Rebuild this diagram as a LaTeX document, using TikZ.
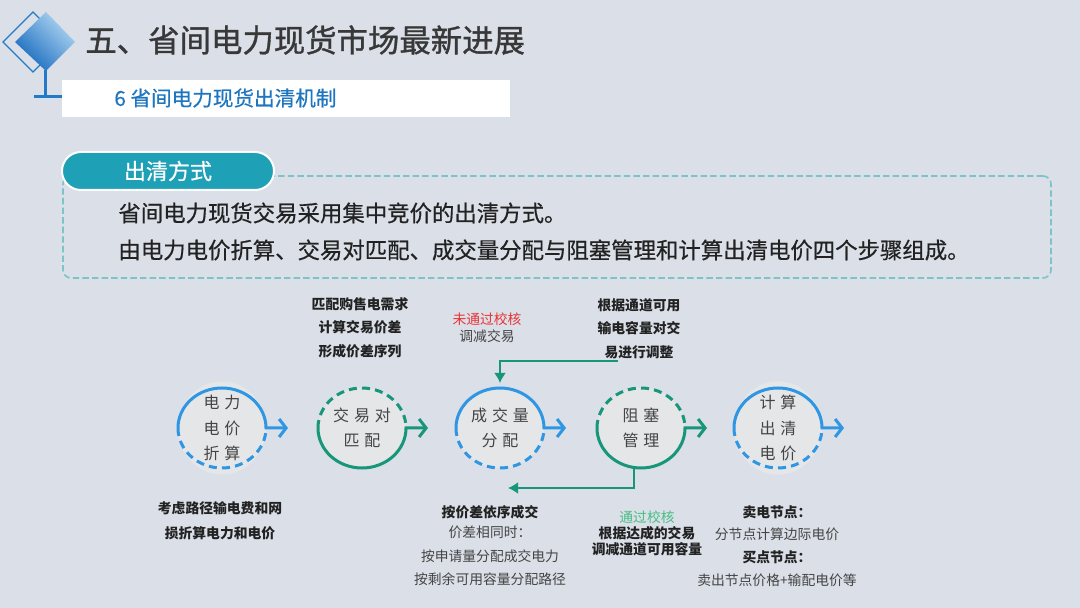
\documentclass[tikz,border=0pt]{standalone}
\usepackage{fontspec}
\setmainfont{Noto Sans CJK SC}
\newfontfamily\headfont{Noto Sans CJK SC}[FakeBold=1.1]
\newfontfamily\medfont{Noto Sans CJK SC}[FakeBold=0.5]
\usetikzlibrary{positioning,arrows.meta,shapes.geometric}

\definecolor{pagebg}{RGB}{218,223,232}
\definecolor{cBlue}{RGB}{46,150,226}
\definecolor{cGreen}{RGB}{24,150,122}
\definecolor{cLight}{RGB}{72,190,130}
\definecolor{cRed}{RGB}{232,52,52}
\definecolor{cTeal}{RGB}{30,160,182}
\definecolor{cFrame}{RGB}{125,196,200}
\definecolor{cLogo}{RGB}{34,122,200}
\definecolor{cLogoDark}{RGB}{22,105,190}
\definecolor{cLogoLight}{RGB}{176,214,242}
\definecolor{cSub}{RGB}{30,118,192}
\definecolor{circfill}{RGB}{229,230,232}
\definecolor{textdark}{RGB}{34,34,34}
\definecolor{textgray}{RGB}{68,68,68}

\newcommand{\cg}{\hspace{0.3em}}

\begin{document}
\begin{tikzpicture}[
  x=0.5pt,y=-0.5pt,
  stage/.style    ={ellipse,fill=circfill,minimum width=44pt,minimum height=40pt,
                    inner sep=0pt,outer sep=0pt,align=center,text=textgray,
                    font=\fontsize{8}{12.8}\selectfont},
  solidring/.style={line width=1.5pt},
  dashring/.style ={line width=1.5pt,dash pattern=on 4pt off 2.6pt},
  tail/.style     ={-{Straight Barb[length=3.5pt,width=9pt]}},
  link/.style     ={draw=cGreen,line width=1.1pt,-{Latex[length=5pt,width=6pt]}},
  note/.style     ={align=center,inner sep=0pt,text=textgray,
                    font=\fontsize{6.9}{11.8}\selectfont},
  notebold/.style ={note,text=textdark,font=\fontsize{6.9}{11.8}\selectfont\bfseries},
  body/.style     ={anchor=west,inner sep=0pt,text=textdark,font=\medfont\fontsize{11.2}{13}\selectfont}]
\useasboundingbox (0,0) rectangle (1080,608);
\fill[pagebg] (0,0) rectangle (1080,608);
% --- Logo and heading ---
\draw[cLogo,line width=0.6pt] (33,12) -- (3,42) -- (33,72) -- (63,42) -- cycle;
\shade[top color=cLogoLight,bottom color=cLogoDark,shading angle=-45]
  (46,12) -- (75,42) -- (46,71) -- (15,42) -- cycle;
\draw[cLogo,line width=1.5pt] (45,70) -- (45,97);
\draw[cLogo,line width=1.5pt] (34,97) -- (63,97);
\node[anchor=west,inner sep=0pt,text=textdark!90,font=\headfont\fontsize{15.7}{18}\selectfont]
  (title) at (85,40) {五、省间电力现货市场最新进展};
\node[fill=white,minimum width=224pt,minimum height=18.5pt,inner sep=0pt]
  (bar) at (286,99) {};
\node[anchor=west,inner sep=0pt,text=cSub,font=\medfont\fontsize{10.3}{12}\selectfont]
  (subtitle) at (114,98) {6 省间电力现货出清机制};
% --- Clearing method box ---
\node[draw=cFrame,line width=0.8pt,dash pattern=on 3.2pt off 1.6pt,rounded corners=4pt,
      minimum width=494pt,minimum height=51pt,inner sep=0pt]
  (box) at (557,227) {};
\node[fill=cTeal,draw=white,line width=1pt,rounded corners=9.5pt,minimum width=106pt,
      minimum height=19pt,inner sep=0pt,text=white,font=\medfont\fontsize{11}{13}\selectfont]
  (tab) at (168,171) {出清方式};
\node[body] (line1) at (118,213) {省间电力现货交易采用集中竞价的出清方式。};
\node[body] (line2) at (118,250) {由电力电价折算、交易对匹配、成交量分配与阻塞管理和计算出清电价四个步骤组成。};
% --- Five clearing steps (type 1: blue, solid top; type 2: green, solid bottom) ---
\foreach \nm/\cx/\type/\txt in
  {c1/222/1/{电\cg 力\\电\cg 价\\折\cg 算},
   c2/362/2/{交\cg 易\cg 对\\匹\cg 配},
   c3/500/1/{成\cg 交\cg 量\\分\cg 配},
   c4/641/2/{阻\cg 塞\\管\cg 理},
   c5/778/1/{计\cg 算\\出\cg 清\\电\cg 价}}
{
  \node[stage] (\nm) at (\cx,428) {\txt};
  \coordinate (\nm-out) at (\cx+66,428);
  \ifnum\type=1
    \draw[dashring,draw=cBlue] (\nm.west) arc[start angle=180,end angle=0,x radius=44,y radius=40];
    \draw[solidring,draw=cBlue,tail] (\nm.west) arc[start angle=180,end angle=360,x radius=44,y radius=40] -- (\nm-out);
  \else
    \draw[dashring,draw=cGreen] (\nm.west) arc[start angle=180,end angle=360,x radius=44,y radius=40];
    \draw[solidring,draw=cGreen,tail] (\nm.west) arc[start angle=180,end angle=0,x radius=44,y radius=40] -- (\nm-out);
  \fi
}
% --- Notes above ---
\node[notebold] (n2) at (360,327.5) {匹配购售电需求\\计算交易价差\\形成价差序列};
\node[note,text=cRed] (fail) at (487,319) {未通过校核};
\node[note] (cut) at (487,336) {调减交易};
\node[notebold] (n4) at (639,328.5) {根据通道可用\\输电容量对交\\易进行调整};
% --- Notes below ---
\node[notebold,font=\fontsize{6.9}{12.5}\selectfont\bfseries] (n1) at (220,520.5) {考虑路径输电费和网\\损折算电力和电价};
\node[notebold] (n3a) at (490,512) {按价差依序成交};
\node[note] (n3b) at (490,556) {价差相同时：\\按申请量分配成交电力\\按剩余可用容量分配路径};
\node[note,text=cLight] (pass) at (647,517) {通过校核};
\node[notebold,font=\fontsize{6.9}{8}\selectfont\bfseries] (n4b) at (647,541) {根据达成的交易\\调减通道可用容量};
\node[note,font=\fontsize{6.9}{11.3}\selectfont] (n5) at (777,546)
  {\textbf{\color{textdark}卖电节点：}\\分节点计算边际电价\\\textbf{\color{textdark}买点节点：}\\卖出节点价格+输配电价等};
% --- Feedback links ---
\coordinate (adjA) at (618,361);
\coordinate (adjB) at (508,488);
\draw[link,shorten >=2.5pt] (adjA) -| (c3.north);
\draw[link] (c4.-100) |- (adjB);
\end{tikzpicture}
\end{document}
